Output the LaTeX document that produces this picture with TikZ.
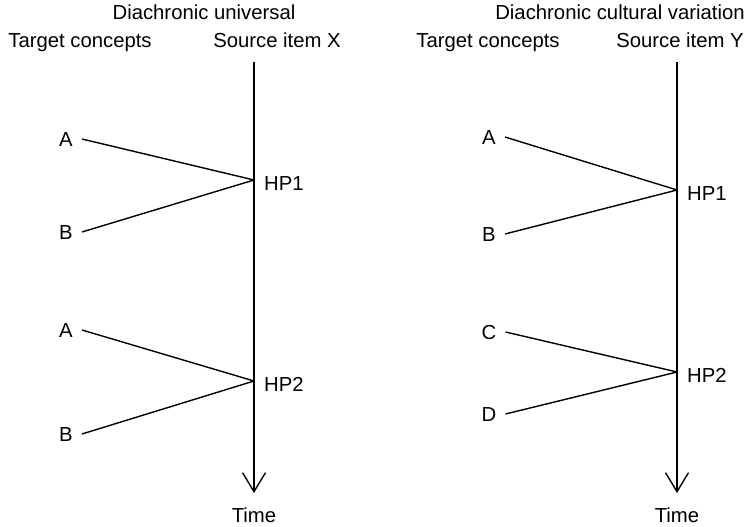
\documentclass[tikz,border=0pt]{standalone}
\usepackage{fontspec}
\setmainfont{Liberation Sans}
\usetikzlibrary{arrows.meta}
\begin{document}
\begin{tikzpicture}[x=1pt,y=-1pt,
  every node/.style={inner sep=0pt, text height=14.5pt, text depth=0pt,
    font=\fontsize{20.3}{24}\selectfont},
  concept/.style={inner xsep=9pt},
  hplabel/.style={anchor=west},
  link/.style={line width=1.4pt},
  timeaxis/.style={line width=1.4pt, -{Straight Barb[length=19pt,width=23pt,line width=1.4pt]}}]
\useasboundingbox (0,0) rectangle (750,527);

% ---- left panel: diachronic universal ----
\node (ltitle) at (204,12) {Diachronic universal};
\node (ltarget) at (80,40) {Target concepts};
\node (lsource) at (277,40) {Source item X};
\coordinate (ltop) at (254,62);
\coordinate (lbot) at (254,493);
\node (ltime) at (254,515) {Time};
\draw[timeaxis] (ltop) -- (lbot);

\coordinate (lhp1) at (254,180);
\coordinate (lhp2) at (254,381);
\node[hplabel] (lhp1t) at (264,183) {HP1};
\node[hplabel] (lhp2t) at (264,384) {HP2};

\node[concept] (la1) at (66,139) {A};
\node[concept] (lb1) at (66,232) {B};
\node[concept] (la2) at (66,330) {A};
\node[concept] (lb2) at (66,434) {B};
\draw[link] (la1.east) -- (lhp1);
\draw[link] (lb1.east) -- (lhp1);
\draw[link] (la2.east) -- (lhp2);
\draw[link] (lb2.east) -- (lhp2);

% ---- right panel: diachronic cultural variation ----
\node (rtitle) at (620,12) {Diachronic cultural variation};
\node (rtarget) at (488,40) {Target concepts};
\node (rsource) at (680,40) {Source item Y};
\coordinate (rtop) at (677,62);
\coordinate (rbot) at (677,493);
\node (rtime) at (677,515) {Time};
\draw[timeaxis] (rtop) -- (rbot);

\coordinate (rhp1) at (677,190);
\coordinate (rhp2) at (677,372);
\node[hplabel] (rhp1t) at (687,193) {HP1};
\node[hplabel] (rhp2t) at (687,375) {HP2};

\node[concept] (ra) at (489,137) {A};
\node[concept] (rb) at (489,234) {B};
\node[concept] (rc) at (489,332) {C};
\node[concept] (rd) at (489,414) {D};
\draw[link] (ra.east) -- (rhp1);
\draw[link] (rb.east) -- (rhp1);
\draw[link] (rc.east) -- (rhp2);
\draw[link] (rd.east) -- (rhp2);
\end{tikzpicture}
\end{document}
